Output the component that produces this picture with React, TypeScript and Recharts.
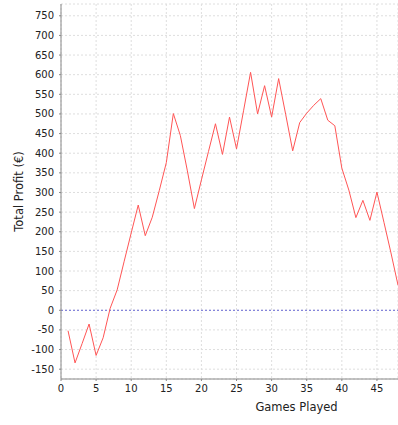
import { LineChart, Line, XAxis, YAxis, CartesianGrid, ReferenceLine } from "recharts";

const games = [
  1, 2, 3, 4, 5, 6, 7, 8, 9, 10, 11, 12, 13, 14, 15, 16, 17, 18, 19, 20, 21, 22, 23, 24,
  25, 26, 27, 28, 29, 30, 31, 32, 33, 34, 35, 36, 37, 38, 39, 40, 41, 42, 43, 44, 45, 46, 47, 48,
];

const profit = [
  -52, -134, -85, -35, -115, -70, 5, 52, 125, 197, 268, 190, 237, 305, 376, 501, 445, 355, 259, 332,
  404, 475, 397, 492, 411, 508, 606, 500, 572, 492, 590, 499, 406, 478, 502, 522, 539, 484, 470, 362,
  306, 236, 280, 229, 301, 224, 146, 64,
];

const xTicks = [0, 5, 10, 15, 20, 25, 30, 35, 40, 45];
const yTicks = [-150, -100, -50, 0, 50, 100, 150, 200, 250, 300, 350, 400, 450, 500, 550, 600, 650, 700, 750];

const data = games.map((g, i) => ({ game: g, profit: profit[i] }));

const font = "'DejaVu Sans', sans-serif";
const tickStyle = { fontSize: 10, fill: "#222", fontFamily: font };

export default function App() {
  return (
    <div style={{ position: "absolute", left: 0, top: 0, width: 398, height: 425, background: "#fff" }}>
      <LineChart width={398} height={425} data={data} margin={{ top: 4, right: 0, bottom: 0, left: 0 }}>
        <CartesianGrid stroke="#dedede" strokeDasharray="2 2" />
        <XAxis
          dataKey="game"
          type="number"
          domain={[0, 48]}
          ticks={xTicks}
          allowDataOverflow
          height={46}
          tickSize={2}
          tickMargin={4}
          tick={tickStyle}
          stroke="#888"
          label={{
            value: "Games Played",
            position: "insideBottom",
            offset: 14,
            dx: 67,
            style: { fontSize: 11.5, fill: "#222", fontFamily: font },
          }}
        />
        <XAxis
          xAxisId="top"
          dataKey="game"
          type="number"
          domain={[0, 48]}
          orientation="top"
          height={0}
          tick={false}
          tickLine={false}
          stroke="#999"
        />
        <YAxis
          type="number"
          domain={[-175, 780]}
          ticks={yTicks}
          allowDataOverflow
          width={61}
          tickSize={2}
          tickMargin={5}
          tick={tickStyle}
          stroke="#888"
          interval={0}
          label={{
            value: "Total Profit (€)",
            angle: -90,
            position: "insideLeft",
            offset: 19,
            style: { textAnchor: "middle", fontSize: 11.5, fill: "#222", fontFamily: font },
          }}
        />
        <ReferenceLine y={0} stroke="#6b6bd6" strokeDasharray="2 2" />
        <Line
          type="linear"
          dataKey="profit"
          stroke="#ff5555"
          strokeWidth={1}
          dot={false}
          isAnimationActive={false}
        />
      </LineChart>
    </div>
  );
}
